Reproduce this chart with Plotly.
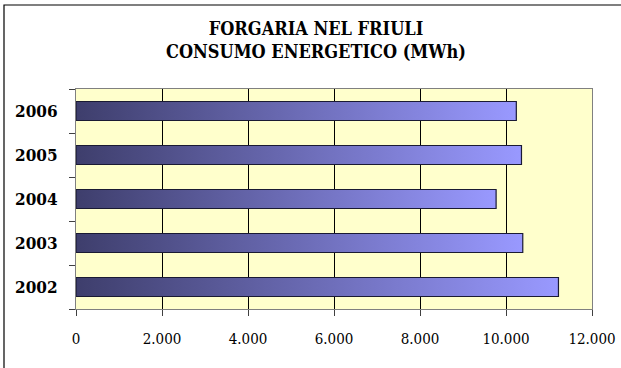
import plotly.graph_objects as go

years = ["2002", "2003", "2004", "2005", "2006"]
consumo = [11220, 10390, 9770, 10360, 10240]
x_ticks = [0, 2000, 4000, 6000, 8000, 10000, 12000]
title_lines = ["FORGARIA NEL FRIULI", "CONSUMO ENERGETICO (MWh)"]

W, H = 621, 368
L, R, T, B = 76, 29, 89, 59
half = 0.216
FONT = "DejaVu Serif Condensed"

fig = go.Figure()
for i, (yr, v) in enumerate(zip(years, consumo)):
    fig.add_trace(go.Scatter(
        x=[0, v, v, 0, 0],
        y=[i - half, i - half, i + half, i + half, i - half],
        mode="lines",
        fill="toself",
        fillgradient=dict(type="horizontal",
                          colorscale=[[0, "#3e3e6c"], [1, "#9999ff"]]),
        line=dict(color="#1a1a33", width=1.2),
        name=yr,
        showlegend=False,
        hoverinfo="skip",
    ))

pw = W - L - R
ph = H - T - B
fig.update_layout(
    width=W, height=H,
    margin=dict(l=L, r=R, t=T, b=B, autoexpand=False),
    paper_bgcolor="white",
    plot_bgcolor="#ffffcc",
    separators=",.",
    font=dict(family=FONT, color="black"),
    title=dict(
        text="<b>" + "<br>".join(title_lines) + "</b>",
        x=316 / W, xref="container", xanchor="center",
        y=1 - 35 / H, yref="container", yanchor="middle",
        font=dict(size=18, family=FONT, color="black"),
    ),
    xaxis=dict(
        range=[0, 12000], tickvals=x_ticks, tickformat=",d",
        showgrid=True, gridcolor="black", gridwidth=1,
        showline=True, linecolor="#808080", linewidth=1, mirror=True,
        ticks="outside", ticklen=6, tickcolor="#404040",
        tickfont=dict(size=15, family=FONT, color="black"),
        ticklabelstandoff=10, automargin=False,
        zeroline=False, fixedrange=True,
    ),
    yaxis=dict(
        range=[-0.5, 4.5], tickvals=list(range(len(years))), ticktext=years,
        ticks="", showgrid=False,
        showline=True, linecolor="#808080", linewidth=1, mirror=True,
        tickfont=dict(size=17, family=FONT, color="black", weight="bold"),
        ticklabelstandoff=14, automargin=False,
        minor=dict(tickvals=[k - 0.5 for k in range(len(years) + 1)],
                   ticks="outside", ticklen=6, tickcolor="#404040",
                   showgrid=False),
        zeroline=False, fixedrange=True,
    ),
    shapes=[dict(
        type="rect", xref="paper", yref="paper",
        x0=(4 - L) / pw, x1=1.2, y0=-0.5, y1=1 + (T - 5) / ph,
        line=dict(color="black", width=1.2), fillcolor="rgba(0,0,0,0)",
        layer="above",
    )],
)

fig.write_html("out.html", config={"displayModeBar": False},
               post_script="document.body.style.margin='0';")
